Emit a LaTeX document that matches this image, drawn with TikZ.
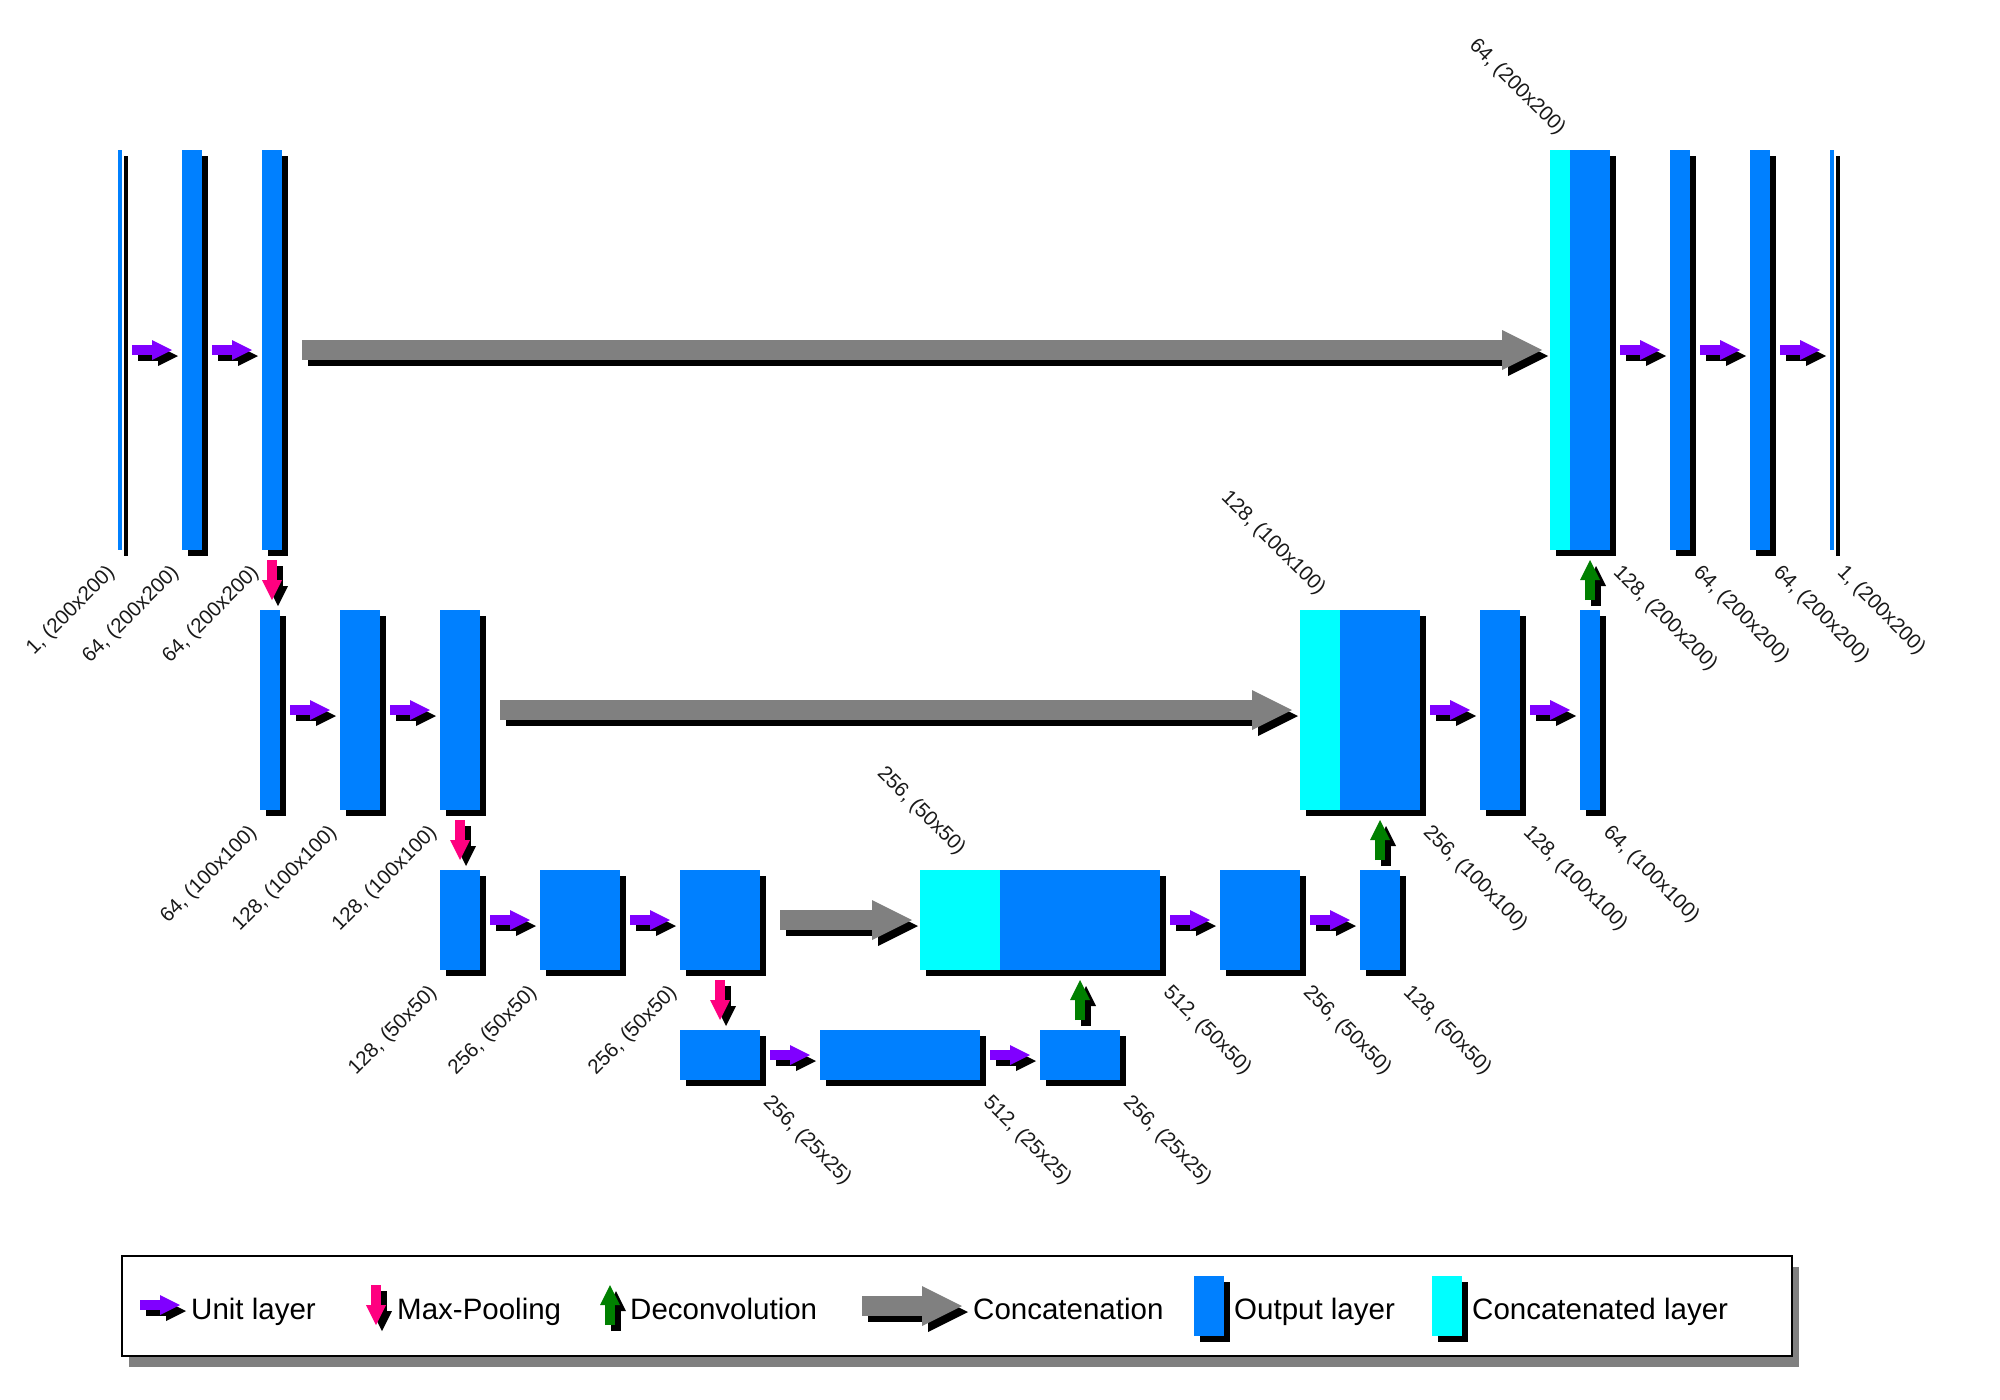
\documentclass[tikz,border=0pt]{standalone}
\usepackage{fontspec}
\setmainfont{Liberation Sans}
\usetikzlibrary{shapes,shadows,positioning,calc}
\usetikzlibrary{arrows,arrows.meta}

\definecolor{outblue}{RGB}{0,128,255}
\definecolor{catcyan}{RGB}{0,255,255}
\definecolor{unitpurple}{RGB}{128,0,255}
\definecolor{poolpink}{RGB}{255,0,128}
\definecolor{deconvgreen}{RGB}{0,128,0}
\definecolor{skipgray}{RGB}{128,128,128}

\tikzset{
  layer/.style 2 args={fill=outblue, inner sep=0pt, outer sep=0pt, anchor=north west,
    minimum width=#1pt, minimum height=#2pt,
    drop shadow={shadow xshift=6pt, shadow yshift=-6pt, fill=black, opacity=1}},
  catlayer/.style 2 args={layer={#1}{#2}, fill=catcyan},
  unit/.style={line width=10pt, unitpurple, -{Triangle[length=20pt,width=20pt,line width=0pt]}},
  pool/.style={unit, poolpink},
  deconv/.style={unit, deconvgreen},
  skip/.style={line width=20pt, skipgray, -{Triangle[length=40pt,width=40pt,line width=0pt]}},
  lbl/.style={font=\fontsize{20.5}{24}\selectfont, text=black!90, inner sep=0pt},
  enclbl/.style={lbl, rotate=45, anchor=north east},
  declbl/.style={lbl, rotate=-45, anchor=north west},
  catlbl/.style={lbl, rotate=-45, anchor=south east},
  keytext/.style={font=\fontsize{29.5}{36}\selectfont, inner sep=0pt, anchor=base west}
}
% arrow with its black shadow
\newcommand\flow[3]{%
  \draw[#1, black, transform canvas={xshift=6pt,yshift=-6pt}] #2 -- #3;
  \draw[#1] #2 -- #3;}

\begin{document}
\begin{tikzpicture}[x=1pt,y=-1pt]
  \fill[white] (0,0) rectangle (2000,1400);
  % contracting path
  \node[layer={4}{400}] (b1) at (118,150) {};
  \node[layer={20}{400}, right=60pt of b1] (b2) {};
  \node[layer={20}{400}, right=60pt of b2] (b3) {};
  \node[layer={20}{200}] (a1) at (260,610) {};
  \node[layer={40}{200}, right=60pt of a1] (a2) {};
  \node[layer={40}{200}, right=60pt of a2] (a3) {};
  \node[layer={40}{100}] (c1) at (440,870) {};
  \node[layer={80}{100}, right=60pt of c1] (c2) {};
  \node[layer={80}{100}, right=60pt of c2] (c3) {};
  \node[layer={80}{50}] (d1) at (680,1030) {};
  \node[layer={160}{50}, right=60pt of d1] (d2) {};
  \node[layer={80}{50}, right=60pt of d2] (d3) {};
  % expanding path
  \node[catlayer={80}{100}] (cat3c) at (920,870) {};
  \node[layer={160}{100}, right=0pt of cat3c] (cat3b) {};
  \node[layer={80}{100}, right=60pt of cat3b] (g1) {};
  \node[layer={40}{100}, right=60pt of g1] (g2) {};
  \node[catlayer={40}{200}] (cat2c) at (1300,610) {};
  \node[layer={80}{200}, right=0pt of cat2c] (cat2b) {};
  \node[layer={40}{200}, right=60pt of cat2b] (f1) {};
  \node[layer={20}{200}, right=60pt of f1] (f2) {};
  \node[catlayer={20}{400}] (cat1c) at (1550,150) {};
  \node[layer={40}{400}, right=0pt of cat1c] (cat1b) {};
  \node[layer={20}{400}, right=60pt of cat1b] (e1) {};
  \node[layer={20}{400}, right=60pt of e1] (e2) {};
  \node[layer={4}{400}, right=60pt of e2] (e3) {};

  \foreach \s/\d in {b1/b2, b2/b3, a1/a2, a2/a3, c1/c2, c2/c3, d1/d2, d2/d3,
                     cat3b/g1, g1/g2, cat2b/f1, f1/f2, cat1b/e1, e1/e2, e2/e3}
    {\flow{unit}{([xshift=10pt]\s.east)}{([xshift=-10pt]\d.west)}}
  \foreach \s/\d in {b3/a1, a3/c1, c3/d1}
    {\flow{pool}{([yshift=-10pt]\s.south)}{([yshift=10pt]\s.south |- \d.north)}}
  \foreach \s/\d in {d3/cat3b, g2/cat2b, f2/cat1b}
    {\flow{deconv}{([yshift=10pt]\s.north)}{([yshift=-10pt]\s.north |- \d.south)}}
  \foreach \s/\d in {b3/cat1c, a3/cat2c, c3/cat3c}
    {\flow{skip}{([xshift=20pt]\s.east)}{([xshift=-8pt]\d.west)}}

  % sizes
  \foreach \lay/\txt in {b1/{1, (200x200)}, b2/{64, (200x200)}, b3/{64, (200x200)},
      a1/{64, (100x100)}, a2/{128, (100x100)}, a3/{128, (100x100)},
      c1/{128, (50x50)}, c2/{256, (50x50)}, c3/{256, (50x50)}}
    \node[enclbl] (l-\lay) at ([xshift=-13pt,yshift=-13pt]\lay.south west) {\txt};
  \foreach \lay/\txt in {d1/{256, (25x25)}, d2/{512, (25x25)}, d3/{256, (25x25)},
      cat3b/{512, (50x50)}, g1/{256, (50x50)}, g2/{128, (50x50)},
      cat2b/{256, (100x100)}, f1/{128, (100x100)}, f2/{64, (100x100)},
      cat1b/{128, (200x200)}, e1/{64, (200x200)}, e2/{64, (200x200)}, e3/{1, (200x200)}}
    \node[declbl] (l-\lay) at ([xshift=13pt,yshift=-13pt]\lay.south east) {\txt};
  \foreach \lay/\txt in {cat1c/{64, (200x200)}, cat2c/{128, (100x100)}, cat3c/{256, (50x50)}}
    \node[catlbl] (l-\lay) at ([xshift=-5pt,yshift=11pt]\lay.north) {\txt};

  % legend
  \node[draw=black, line width=2pt, fill=white, inner sep=0pt, anchor=north west,
    minimum width=1670pt, minimum height=100pt,
    drop shadow={shadow xshift=7pt, shadow yshift=-11pt, fill=skipgray, opacity=1}] (legend) at (121,1255) {};
  \coordinate (k-unit) at (140,1305);
  \flow{unit}{(k-unit)}{([xshift=40pt]k-unit)}
  \node[keytext] (t-unit) at (191,1319) {Unit layer};
  \coordinate (k-pool) at (376,1285);
  \flow{pool}{(k-pool)}{([yshift=-40pt]k-pool)}
  \node[keytext] (t-pool) at (397,1319) {Max-Pooling};
  \coordinate (k-deconv) at (610,1325);
  \flow{deconv}{(k-deconv)}{([yshift=40pt]k-deconv)}
  \node[keytext] (t-deconv) at (630,1319) {Deconvolution};
  \coordinate (k-skip) at (862,1306);
  \flow{skip}{(k-skip)}{([xshift=100pt]k-skip)}
  \node[keytext] (t-skip) at (973,1319) {Concatenation};
  \node[layer={30}{60}] (k-out) at (1194,1276) {};
  \node[keytext] (t-out) at (1234,1319) {Output layer};
  \node[catlayer={30}{60}] (k-cat) at (1432,1276) {};
  \node[keytext] (t-cat) at (1472,1319) {Concatenated layer};
\end{tikzpicture}
\end{document}
